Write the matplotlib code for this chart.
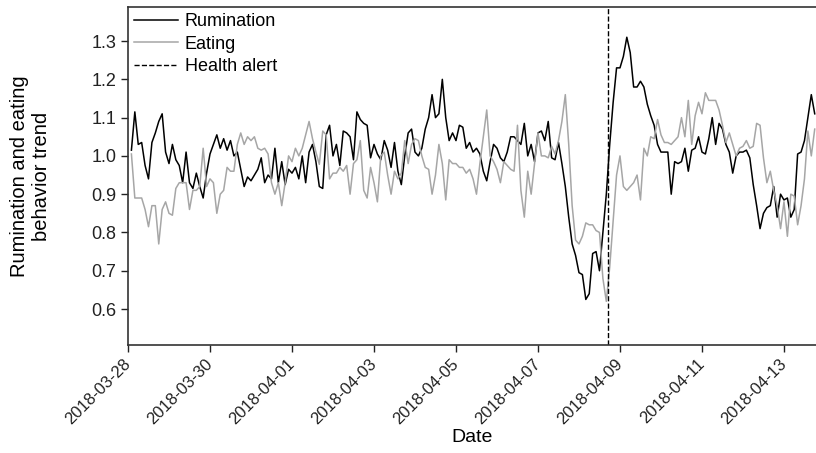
import matplotlib
matplotlib.use("Agg")
import matplotlib.pyplot as plt
import pandas as pd

plt.rcParams["font.family"] = ["Liberation Sans", "DejaVu Sans"]

# 2-hourly trend values, first point 2018-03-28 02:00
START = "2018-03-28 02:00"
STEP = "2h"
ALERT = "2018-04-08 17:00"
TICK_DAYS = pd.date_range("2018-03-28", "2018-04-13", freq="2D")

rumination = [
    1.015, 1.115, 1.03, 1.035, 0.975, 0.94, 1.035, 1.06, 1.09, 1.11, 1.01, 0.98,
    1.03, 0.99, 0.975, 0.93, 1.01, 0.93, 0.915, 0.955, 0.92, 0.89, 0.955, 1.005,
    1.03, 1.055, 1.02, 1.045, 1.015, 1.04, 1.0, 1.01,
    0.965, 0.92, 0.945, 0.935, 0.95, 0.965, 0.995, 0.93, 0.95, 0.94, 1.02, 0.93,
    0.985, 0.925, 0.965, 0.955, 0.97, 0.94, 1.0, 0.93, 1.01, 1.03, 0.985, 0.92,
    0.915, 1.055, 1.08, 1.0, 1.03, 0.975, 1.065, 1.06, 1.05, 0.99,
    1.115, 1.095, 1.085, 1.08, 0.995, 1.03, 1.005, 0.99, 1.04, 1.015, 0.97, 1.035,
    0.96, 0.925, 1.0, 1.06, 1.07, 1.01, 1.0, 1.02, 1.07, 1.1, 1.16, 1.1,
    1.11, 1.2, 1.1, 1.04, 1.06, 1.04, 1.08, 1.075, 1.02, 1.035,
    1.01, 1.02, 1.005, 0.96, 0.935, 0.985, 1.03, 1.02, 0.995, 0.985, 1.01, 1.05,
    1.05, 1.04, 1.03, 1.085, 1.0, 1.03, 0.985, 1.06, 1.065, 1.04, 1.09, 0.995,
    0.99, 1.035, 0.98, 0.92, 0.84, 0.77, 0.74, 0.695, 0.69,
    0.625, 0.64, 0.745, 0.75, 0.70, 0.80, 0.9, 1.03, 1.14, 1.23, 1.23, 1.26,
    1.31, 1.27, 1.18, 1.18, 1.195, 1.18, 1.135, 1.105, 1.08, 1.03, 1.01, 1.01,
    1.01, 0.9, 0.985, 0.98, 0.985, 1.02, 0.96, 1.015, 1.02, 1.05,
    1.01, 1.005, 1.045, 1.1, 1.03, 1.085, 1.07, 1.03, 1.01, 0.955, 1.0, 1.01,
    1.01, 1.015, 0.995, 0.925, 0.87, 0.81, 0.85, 0.865, 0.87, 0.92, 0.84, 0.9,
    0.885, 0.89, 0.84, 0.86, 1.005, 1.01, 1.04, 1.1, 1.16, 1.11,
]

eating = [
    1.005, 0.89, 0.89, 0.89, 0.86, 0.815, 0.87, 0.87, 0.77, 0.86, 0.88, 0.85,
    0.845, 0.915, 0.93, 0.93, 0.93, 0.86, 0.91, 0.91, 0.92, 1.02, 0.92, 0.94,
    0.93, 0.85, 0.90, 0.91, 0.97, 0.96, 0.96, 1.03,
    1.06, 1.03, 1.05, 1.04, 1.05, 1.02, 1.015, 1.02, 1.005, 0.93, 0.9, 0.93,
    0.87, 0.93, 1.0, 0.985, 1.02, 1.0, 1.02, 1.055, 1.09, 1.045, 1.01, 0.978,
    1.065, 1.055, 0.94, 0.955, 0.955, 0.97, 0.96, 0.975, 0.9, 0.98,
    0.99, 1.04, 0.91, 0.89, 0.97, 0.93, 0.88, 1.0, 1.01, 0.95, 0.9, 0.96,
    0.94, 0.955, 1.04, 0.98, 1.03, 1.045, 1.04, 1.0, 0.97, 0.965, 0.9, 0.95,
    1.03, 0.98, 0.885, 0.99, 0.98, 0.98, 0.97, 0.97, 0.955, 0.965,
    0.94, 0.9, 0.98, 1.05, 1.12, 1.0, 0.985, 0.965, 0.93, 0.985, 0.975, 0.965,
    0.96, 1.08, 0.91, 0.84, 0.96, 0.9, 0.98, 1.06, 1.0, 1.0, 0.995, 1.025,
    1.005, 1.04, 1.09, 1.16, 1.03, 0.87, 0.78, 0.77, 0.79,
    0.825, 0.82, 0.82, 0.805, 0.8, 0.68, 0.62, 0.71, 0.83, 0.95, 1.0, 0.92,
    0.91, 0.92, 0.93, 0.95, 0.885, 1.02, 1.0, 1.05, 1.045, 1.095, 1.055, 1.035,
    1.035, 1.03, 1.04, 1.05, 1.1, 1.05, 1.145, 1.03, 1.105, 1.14,
    1.11, 1.165, 1.145, 1.145, 1.145, 1.12, 1.08, 1.035, 1.06, 1.03, 1.0, 1.02,
    1.025, 1.04, 1.02, 1.025, 1.085, 1.08, 0.995, 0.93, 0.96, 0.91, 0.87, 0.81,
    0.88, 0.79, 0.9, 0.895, 0.82, 0.87, 0.94, 1.065, 1.0, 1.07,
]

times = pd.date_range(START, periods=len(rumination), freq=STEP)

fig = plt.figure(figsize=(8.16, 4.53), dpi=100)
ax = fig.add_axes([128 / 816, 1 - 345 / 453, 1 - 128 / 816, (345 - 7) / 453])

ax.plot(times, rumination, color="black", linewidth=1.1, label="Rumination")
ax.plot(times, eating, color="#a6a6a6", linewidth=1.1, label="Eating")
ax.axvline(pd.Timestamp(ALERT), color="black", linestyle="--", linewidth=1.0,
           label="Health alert")

ax.set_xlim(pd.Timestamp("2018-03-28 00:00"), pd.Timestamp("2018-04-13 18:45"))
ax.set_ylim(0.506, 1.389)
ax.set_yticks([0.6, 0.7, 0.8, 0.9, 1.0, 1.1, 1.2, 1.3])

ax.set_xticks(TICK_DAYS)
ax.set_xticklabels([d.strftime("%Y-%m-%d") for d in TICK_DAYS],
                   rotation=45, ha="right", va="center", rotation_mode="anchor")

ax.tick_params(direction="out", length=5, width=1.0, colors="#222222")
ax.tick_params(axis="y", labelsize=13)
ax.tick_params(axis="x", labelsize=12, pad=7)
for s in ("top", "bottom", "left"):
    ax.spines[s].set_color("#333333")
    ax.spines[s].set_linewidth(1.2)
ax.spines["right"].set_visible(False)

ax.set_xlabel("Date", fontsize=14)
ax.set_ylabel("Rumination and eating\nbehavior trend", fontsize=14.5)
ax.yaxis.set_label_coords(-0.112, 0.5)
ax.xaxis.set_label_coords(0.5, -0.25)

ax.legend(loc="upper left", frameon=False, fontsize=13, handlelength=2.4,
          handletextpad=0.4, labelspacing=0.3, borderaxespad=0.2, borderpad=0.15)

fig.savefig("out.png", dpi=100)
